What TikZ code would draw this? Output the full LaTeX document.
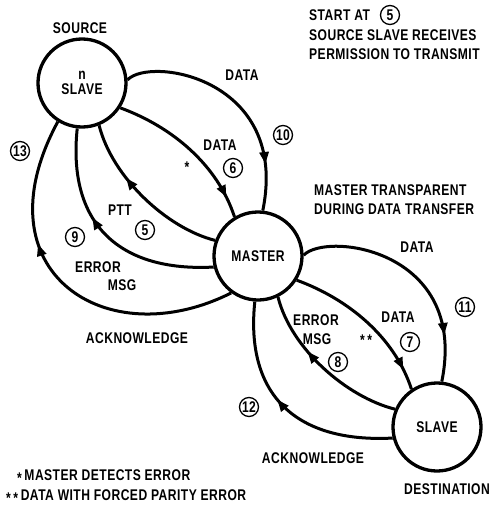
\documentclass[tikz,border=0pt]{standalone}
\usepackage{fontspec}
\setmainfont{Liberation Sans}[FakeStretch=0.78, LetterSpace=3]
\usetikzlibrary{arrows.meta, decorations.markings, positioning}

\begin{document}
\begin{tikzpicture}[
    x=1pt, y=1pt,
    every node/.style={font=\fontsize{15.5}{15}\selectfont\bfseries, inner sep=1pt},
    slave/.style={circle, draw, line width=3.3pt, minimum size=88pt, inner sep=0pt, align=center},
    num/.style={circle, draw, line width=1.3pt, minimum size=19pt, inner sep=0pt},
    link/.style={line width=3pt},
    flow/.style={postaction={decorate}, decoration={markings, mark=at position #1 with {\arrow{Triangle[length=12pt, width=9pt]}}}}
]
\useasboundingbox (0,0) rectangle (495,-506);

% Nodes
\node[slave] (src) at (82,-83) {n\\SLAVE};
\node[slave] (mst) at (258,-256) {MASTER};
\node[slave] (dst) at (437,-427) {SLAVE};
\node (srclbl) at (80,-28) {SOURCE};
\node (dstlbl) at (447,-489) {DESTINATION};

% Notes
\node[anchor=west] (start) at (308,-15) {START AT};
\node[num] (n5top) at (390,-15) {5};
\node[anchor=west] (perm1) at (308,-35) {SOURCE SLAVE RECEIVES};
\node[anchor=west] (perm2) at (308,-54) {PERMISSION TO TRANSMIT};
\node[anchor=west] (trans1) at (313,-190) {MASTER TRANSPARENT};
\node[anchor=west] (trans2) at (313,-209) {DURING DATA TRANSFER};
\node[anchor=west] (foot1) at (16,-477) {\raisebox{-3pt}{*}\,MASTER DETECTS ERROR};
\node[anchor=west] (foot2) at (5,-497) {\raisebox{-3pt}{*\,*}\,DATA WITH FORCED PARITY ERROR};

% Connections
\draw[link, flow=0.8] (src.4) .. controls +(23,24) and +(27,132) .. (mst.84);
\draw[link, flow=0.87] (src.-33) .. controls +(52,-19) and +(-17,52) .. (mst.121);
\draw[link, flow=0.65] (mst.160) .. controls +(-48,12) and +(13,-52) .. (src.-68);
\draw[link, flow=0.6] (mst.194) .. controls +(-95,-5) and +(-10,-95) .. (src.-96);
\draw[link, flow=0.64] (mst.234) .. controls +(-125,-63) and +(-81,-150) .. (src.238);
\draw[link, flow=0.8] (mst.1) .. controls +(23,24) and +(27,132) .. (dst.84);
\draw[link, flow=0.87] (mst.-32) .. controls +(52,-19) and +(-17,52) .. (dst.124);
\draw[link, flow=0.63] (dst.157) .. controls +(-48,12) and +(13,-52) .. (mst.-64);
\draw[link, flow=0.55] (dst.194) .. controls +(-95,-5) and +(-10,-95) .. (mst.266);

% Labels source side
\node (data10) at (242,-75) {DATA};
\node[num] (n10) at (283,-135) {10};
\node (data6) at (220,-145) {DATA};
\node[num] (n6) at (233,-168) {6};
\node (err6) at (187,-167) {*};
\node (ptt) at (120,-210) {PTT};
\node[num] (n5) at (145,-230) {5};
\node[num] (n9) at (75,-237) {9};
\node (err9) at (98,-267) {ERROR};
\node (msg9) at (122,-285) {MSG};
\node[num] (n13) at (20,-151) {13};
\node (ack13) at (137,-338) {ACKNOWLEDGE};

% Labels destination side
\node (data11) at (417,-247) {DATA};
\node[num] (n11) at (465,-307) {11};
\node (data7) at (398,-317) {DATA};
\node[num] (n7) at (410,-342) {7};
\node (err7) at (366,-340) {*\,*};
\node (err8) at (316,-320) {ERROR};
\node (msg8) at (317,-339) {MSG};
\node[num] (n8) at (338,-362) {8};
\node[num] (n12) at (249,-407) {12};
\node (ack12) at (313,-458) {ACKNOWLEDGE};

\end{tikzpicture}
\end{document}
